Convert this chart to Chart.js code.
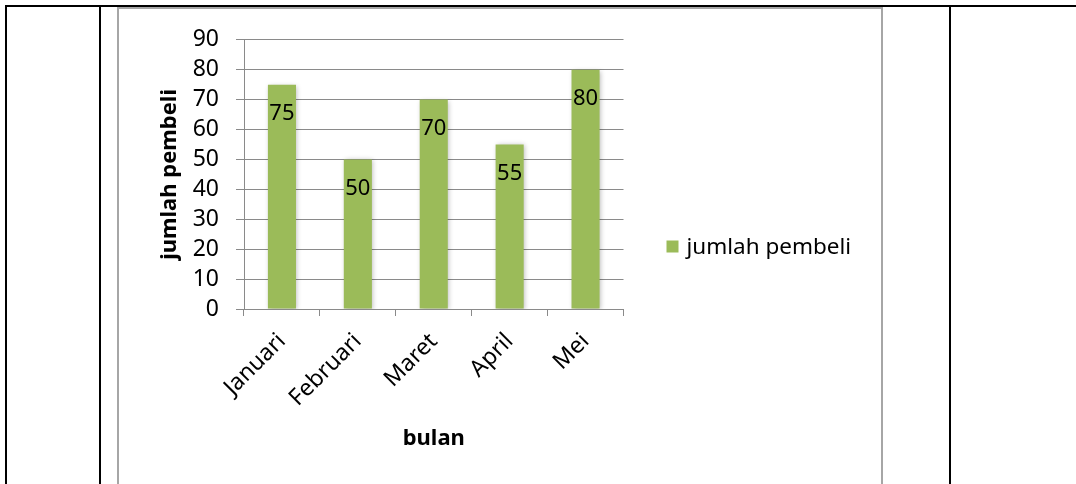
<!DOCTYPE html>
<html>
<head>
<meta charset="utf-8">
<script src="https://cdn.jsdelivr.net/npm/chart.js@4.4.1/dist/chart.umd.min.js"></script>
<style>
  html, body { margin: 0; padding: 0; background: #fff; overflow: hidden; }
  body { width: 1076px; height: 484px; position: relative; }
  .rule { position: absolute; background: #000; }
  #frame {
    position: absolute; left: 117px; top: 7px;
    width: 762px; height: 490px;
    border: 2px solid #a6a6a6;
  }
  #chart { position: absolute; left: 0; top: 0; }
</style>
</head>
<body>
<!-- table cell borders around the embedded chart -->
<div class="rule" style="left:5px; top:5px; width:1071px; height:2px;"></div>
<div class="rule" style="left:5px; top:5px; width:2px; height:479px;"></div>
<div class="rule" style="left:99px; top:5px; width:2px; height:479px;"></div>
<div class="rule" style="left:949px; top:5px; width:2px; height:479px;"></div>

<div id="frame"><canvas id="chart" width="762" height="475"></canvas></div>

<script>
const categories = ['Januari', 'Februari', 'Maret', 'April', 'Mei'];
const buyers = [75, 50, 70, 55, 80];
const seriesName = 'jumlah pembeli';
const xTitle = 'bulan';
const yTitle = 'jumlah pembeli';
const yMin = 0;
const yMax = 90;
const yStep = 10;

const FONT = '"Noto Sans", "Open Sans", sans-serif';
const GRID = '#8a8a8a';
const BAR = '#9bbb59';

Chart.defaults.font.family = FONT;
Chart.defaults.color = '#000';

const canvas = document.getElementById('chart');

// soft shadow behind the columns
const barShadow = {
  id: 'barShadow',
  beforeDatasetsDraw(chart) {
    const ctx = chart.ctx;
    ctx.save();
    ctx.shadowColor = 'rgba(0,0,0,0.28)';
    ctx.shadowBlur = 5;
    ctx.shadowOffsetX = 1;
    ctx.shadowOffsetY = 1;
  },
  afterDatasetsDraw(chart) {
    chart.ctx.restore();
  }
};

// value labels just inside the top of each column
const valueLabels = {
  id: 'valueLabels',
  afterDatasetsDraw(chart) {
    const ctx = chart.ctx;
    ctx.save();
    ctx.font = '22px ' + FONT;
    ctx.fillStyle = '#000';
    ctx.textAlign = 'center';
    ctx.textBaseline = 'middle';
    chart.getDatasetMeta(0).data.forEach((bar, i) => {
      ctx.fillText(String(buyers[i]), bar.x, bar.y + 29);
    });
    ctx.restore();
  }
};

// single-entry legend to the right of the plot, centred vertically in the frame
const sideLegend = {
  id: 'sideLegend',
  afterDraw(chart, args, opts) {
    const ctx = chart.ctx;
    const ds = chart.data.datasets[0];
    const x = chart.chartArea.right + opts.gap;
    const y = chart.height / 2;
    ctx.save();
    ctx.fillStyle = ds.backgroundColor;
    ctx.fillRect(x, y - opts.box / 2, opts.box, opts.box);
    ctx.font = opts.fontSize + 'px ' + FONT;
    ctx.fillStyle = '#000';
    ctx.textAlign = 'left';
    ctx.textBaseline = 'middle';
    ctx.fillText(ds.label, x + opts.box + 8, y + 1);
    ctx.restore();
  }
};

new Chart(canvas, {
  type: 'bar',
  data: {
    labels: categories,
    datasets: [{
      label: seriesName,
      data: buyers,
      backgroundColor: BAR,
      borderWidth: 0,
      categoryPercentage: 1,
      barPercentage: 0.37
    }]
  },
  options: {
    responsive: false,
    animation: false,
    events: [],
    layout: { padding: { top: 28, bottom: 29, left: 0, right: 257.5 } },
    plugins: {
      legend: { display: false },
      tooltip: { enabled: false },
      sideLegend: { gap: 43, box: 12, fontSize: 22.5 }
    },
    scales: {
      x: {
        afterFit(scale) { scale.height = 146; },
        grid: {
          drawOnChartArea: false,
          drawTicks: true,
          tickLength: 7,
          offset: true,
          color: GRID
        },
        border: { display: true, color: GRID },
        ticks: {
          minRotation: 45,
          maxRotation: 45,
          autoSkip: false,
          padding: 12,
          font: { size: 23 },
          color: '#000'
        },
        title: {
          display: true,
          text: xTitle,
          font: { size: 22, weight: 'bold' },
          color: '#000',
          padding: { top: 0, bottom: 3 }
        }
      },
      y: {
        min: yMin,
        max: yMax,
        afterFit(scale) { scale.width = 125; },
        grid: { color: GRID, tickLength: 8, drawTicks: true },
        border: { display: true, color: GRID },
        ticks: {
          stepSize: yStep,
          maxTicksLimit: 20,
          autoSkip: false,
          padding: 17,
          font: { size: 23 },
          color: '#000'
        },
        title: {
          display: true,
          text: yTitle,
          font: { size: 22, weight: 'bold' },
          color: '#000',
          padding: { top: 38, bottom: 0 }
        }
      }
    }
  },
  plugins: [barShadow, valueLabels, sideLegend]
});
</script>
</body>
</html>
